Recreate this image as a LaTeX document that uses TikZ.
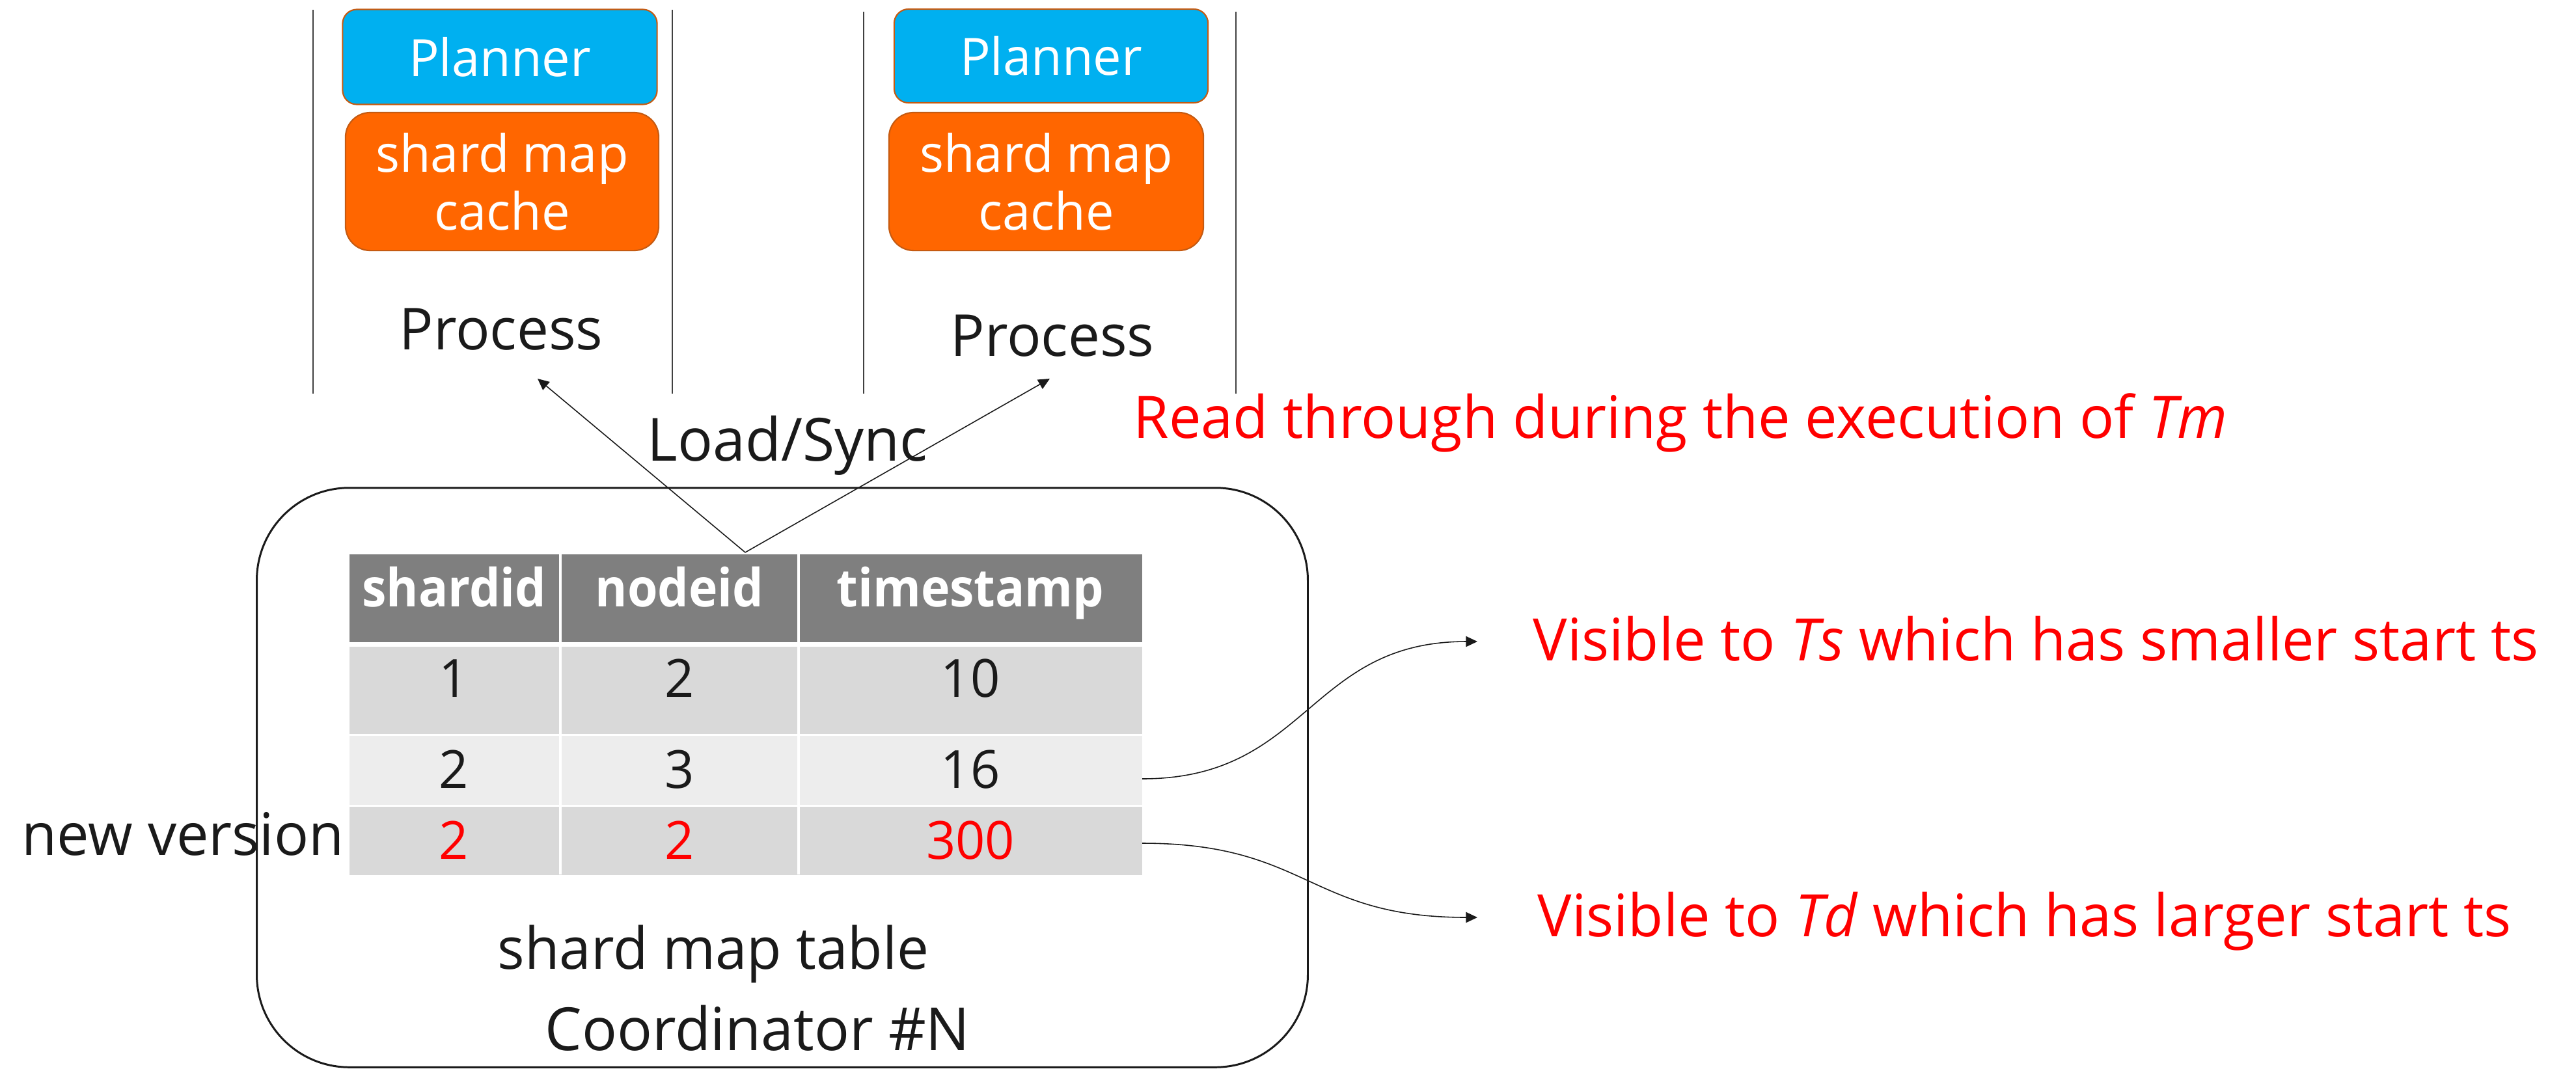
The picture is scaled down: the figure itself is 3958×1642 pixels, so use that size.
\documentclass[tikz,border=0pt]{standalone}
\usepackage{fontspec}
\setmainfont{Open Sans}[FakeStretch=0.98, BoldFeatures={FakeStretch=0.93}]
\usetikzlibrary{arrows.meta}
\definecolor{plannerblue}{HTML}{00B0F0}
\definecolor{cacheorange}{HTML}{FF6600}
\definecolor{boxedge}{HTML}{C55A11}
\definecolor{hdrgray}{HTML}{7F7F7F}
\definecolor{rowdark}{HTML}{D9D9D9}
\definecolor{rowlight}{HTML}{EDEDED}
\definecolor{txt}{HTML}{1A1A1A}
\definecolor{hot}{HTML}{FF0000}
\tikzset{
  plannerbox/.style={draw=boxedge, line width=0.6pt, fill=plannerblue, rounded corners=0.22cm,
    text=white, inner sep=0pt, font=\fontsize{22.5pt}{25.3pt}\selectfont},
  cachebox/.style={draw=boxedge, line width=0.6pt, fill=cacheorange, rounded corners=0.38cm,
    text=white, inner sep=0pt, align=center, font=\fontsize{22.5pt}{25.3pt}\selectfont},
  vline/.style={draw=black!75, line width=0.4pt},
  label/.style={inner sep=0pt, anchor=base, text=txt},
  redlabel/.style={inner sep=0pt, anchor=base west, text=hot, font=\fontsize{25.6pt}{30pt}\selectfont},
  cell/.style={inner sep=0pt, anchor=base, font=\fontsize{23pt}{27pt}\selectfont},
  rowbar/.style={inner sep=0pt, minimum width=12.18cm, anchor=north west},
  link/.style={draw=txt, line width=0.45pt, -{Triangle[length=5pt,width=4.6pt]}},
}
\begin{document}
\begin{tikzpicture}[x=0.01cm, y=-0.01cm]
\useasboundingbox (0,0) rectangle (3958,1642);

% process lanes
\draw[vline] (481,15) -- (481,605);
\draw[vline] (1033,15) -- (1033,605);
\draw[vline] (1327,18) -- (1327,605);
\draw[vline] (1899,18) -- (1899,605);

% first process
\node[plannerbox, minimum width=4.83cm, minimum height=1.46cm] (plan1) at (768,87.5) {Planner};
\node[cachebox, minimum width=4.81cm, minimum height=2.12cm] (cache1) at (771.5,279) {shard map\\cache};
\node[label, font=\fontsize{25.3pt}{30pt}\selectfont] (proc1) at (770,537) {Process};

% second process
\node[plannerbox, minimum width=4.82cm, minimum height=1.44cm] (plan2) at (1615,86) {Planner};
\node[cachebox, minimum width=4.83cm, minimum height=2.12cm] (cache2) at (1607.5,279) {shard map\\cache};
\node[label, font=\fontsize{25.3pt}{30pt}\selectfont] (proc2) at (1617,547) {Process};

% coordinator
\node[draw=txt, line width=0.85pt, rounded corners=1.42cm, minimum width=16.14cm,
      minimum height=8.9cm, inner sep=0pt] (coord) at (1202,1195) {};

% shard map table rows
\node[rowbar, fill=hdrgray, minimum height=1.35cm] (row0) at (536,851) {};
\node[rowbar, fill=rowdark, minimum height=1.34cm] (row1) at (536,993) {};
\node[rowbar, fill=rowlight, minimum height=1.06cm] (row2) at (536,1130) {};
\node[rowbar, fill=rowdark, minimum height=1.05cm] (row3) at (536,1239) {};
\draw[white, line width=1pt] (861,851) -- (861,1344);
\draw[white, line width=1pt] (1227,851) -- (1227,1344);

% header
\node[cell, text=white, font=\fontsize{23pt}{27pt}\selectfont\bfseries] (h1) at (698,932) {shardid};
\node[cell, text=white, font=\fontsize{23pt}{27pt}\selectfont\bfseries] (h2) at (1044,932) {nodeid};
\node[cell, text=white, font=\fontsize{23pt}{27pt}\selectfont\bfseries] (h3) at (1491,932) {timestamp};
% entries
\node[cell, text=txt] (a1) at (697,1071) {1};
\node[cell, text=txt] (b1) at (1044,1071) {2};
\node[cell, text=txt] (c1) at (1491,1071) {10};
\node[cell, text=txt] (a2) at (697,1211) {2};
\node[cell, text=txt] (b2) at (1044,1211) {3};
\node[cell, text=txt] (c2) at (1491,1211) {16};
\node[cell, text=hot] (a3) at (697,1320) {2};
\node[cell, text=hot] (b3) at (1044,1320) {2};
\node[cell, text=hot] (c3) at (1491,1320) {300};

\node[label, font=\fontsize{25.3pt}{29pt}\selectfont] (tbl) at (1096,1489) {shard map table};
\node[label, font=\fontsize{26pt}{30pt}\selectfont] (coordname) at (1164,1614) {Coordinator \#N};
\node[label, anchor=base west, font=\fontsize{25.6pt}{30pt}\selectfont] (newv) at (33,1314) {new version};

% load / sync
\node[label, font=\fontsize{26pt}{30pt}\selectfont] (load) at (1210,708) {Load/Sync};
\coordinate (src) at (1145,849);
\coordinate (tipA) at (826,582);
\coordinate (tipB) at (1613,582);
\draw[link] (src) -- (tipA);
\draw[link] (src) -- (tipB);

% annotations
\node[redlabel] (readthru) at (1741,673) {Read through during the execution of \textit{Tm}};
\node[redlabel] (vis1) at (2355,1015) {Visible to \textit{Ts} which has smaller start ts};
\node[redlabel] (vis2) at (2362,1439) {Visible to \textit{Td} which has larger start ts};

\coordinate (out1) at (1755,1197);
\coordinate (out2) at (1755,1296);
\coordinate (tip1) at (2270,986);
\coordinate (tip2) at (2270,1410);
\draw[link] (out1) .. controls (2010,1197) and (2010,986) .. (tip1);
\draw[link] (out2) .. controls (2010,1296) and (2010,1410) .. (tip2);
\end{tikzpicture}
\end{document}
